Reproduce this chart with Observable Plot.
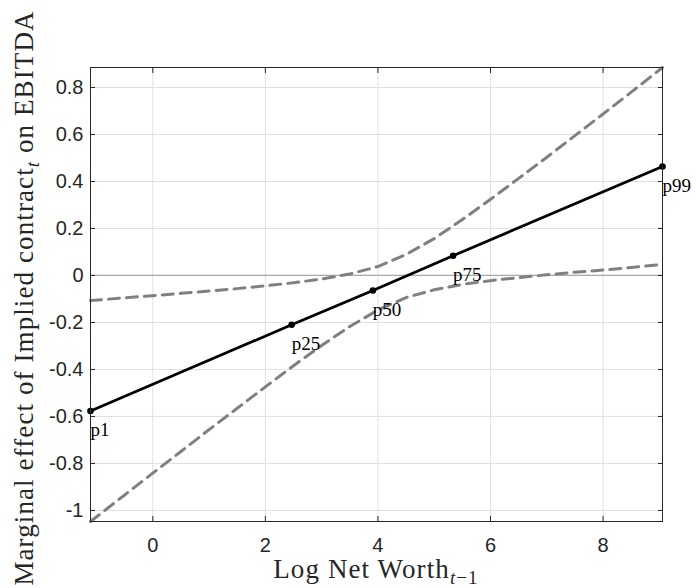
<!DOCTYPE html>
<html><head><meta charset="utf-8">
<script src="https://cdn.jsdelivr.net/npm/d3@7"></script>
<script src="https://cdn.jsdelivr.net/npm/@observablehq/plot@0.6"></script>
<style>body{margin:0;background:#fff} svg{display:block}</style>
</head><body><div id="chart"></div>
<script>
// Percentile points on the marginal-effect line
const pctLabels = ["p1", "p25", "p50", "p75", "p99"];
const pctX = [-1.107, 2.467, 3.91, 5.335, 9.056];
const pctY = [-0.577, -0.21, -0.064, 0.084, 0.464];

// Confidence band (dashed)
const ciX     = [-1.107, -0.5, 0, 0.5, 1, 1.5, 2, 2.5, 3, 3.5, 4, 4.5, 5, 5.5, 6, 6.5, 7, 7.5, 8, 8.5, 9.056];
const ciUpper = [-0.107, -0.095, -0.086, -0.076, -0.066, -0.056, -0.044, -0.031, -0.015, 0.006, 0.038, 0.089, 0.157, 0.238, 0.324, 0.413, 0.503, 0.595, 0.687, 0.780, 0.885];
const ciLower = [-1.047, -0.934, -0.841, -0.749, -0.656, -0.565, -0.474, -0.384, -0.298, -0.217, -0.147, -0.094, -0.061, -0.038, -0.022, -0.009, 0.003, 0.014, 0.023, 0.034, 0.047];

// Axis ticks
const xTicks = [0, 2, 4, 6, 8];
const yTicks = [-1, -0.8, -0.6, -0.4, -0.2, 0, 0.2, 0.4, 0.6, 0.8];

const yFmt = d => { const v = +(+d).toFixed(1); return v === 0 ? "0" : String(v); };

const serif = "'Liberation Serif', 'Times New Roman', serif";
const gridColor = "#e0e0e0";

const plot = Plot.plot({
  width: 696, height: 588,
  marginLeft: 90, marginRight: 34, marginTop: 67, marginBottom: 67,
  x: {domain: [-1.107, 9.056]},
  y: {domain: [-1.047, 0.885]},
  style: {fontFamily: "'Liberation Sans', Arial, sans-serif", fontSize: "20px", color: "#262626", background: "#fff"},
  marks: [
    Plot.gridX(xTicks, {stroke: gridColor, strokeOpacity: 1}),
    Plot.gridY(yTicks, {stroke: gridColor, strokeOpacity: 1}),
    Plot.ruleY([0], {stroke: "#a8a8a8", strokeWidth: 1.3}),
    Plot.line(ciX, {x: (d, i) => ciX[i], y: (d, i) => ciUpper[i], stroke: "#808080", strokeWidth: 3, strokeDasharray: "11,7", curve: "linear"}),
    Plot.line(ciX, {x: (d, i) => ciX[i], y: (d, i) => ciLower[i], stroke: "#808080", strokeWidth: 3, strokeDasharray: "11,7", curve: "linear"}),
    Plot.line(pctX, {x: (d, i) => pctX[i], y: (d, i) => pctY[i], stroke: "#000", strokeWidth: 2.8}),
    Plot.dot(pctX, {x: (d, i) => pctX[i], y: (d, i) => pctY[i], r: 3.3, fill: "#000", stroke: "none"}),
    Plot.text(pctLabels, {x: (d, i) => pctX[i], y: (d, i) => pctY[i], text: d => d, textAnchor: "start", dy: 19, fontFamily: serif, fontSize: 19, fill: "#000"}),
    Plot.frame({stroke: "#262626", strokeWidth: 1}),
    Plot.axisX(xTicks, {anchor: "bottom", tickSize: -5, tickPadding: 21, tickFormat: d => String(d), label: null, stroke: "#262626"}),
    Plot.axisX(xTicks, {anchor: "top", tickSize: -5, tickFormat: () => "", label: null, stroke: "#262626"}),
    Plot.axisY(yTicks, {anchor: "left", tickSize: -5, tickPadding: 12, tickFormat: yFmt, label: null, stroke: "#262626"}),
    Plot.axisY(yTicks, {anchor: "right", tickSize: -5, tickFormat: () => "", label: null, stroke: "#262626"})
  ]
});

const svg = d3.select(plot);
// x-axis title with subscript
const xt = svg.append("text")
  .attr("x", 376).attr("y", 578)
  .attr("text-anchor", "middle")
  .attr("letter-spacing", 1.1)
  .attr("font-family", serif).attr("font-size", 27).attr("fill", "#262626");
xt.append("tspan").text("Log Net Worth");
xt.append("tspan").attr("font-size", 19).attr("dy", 6).attr("font-style", "italic").text("t");
xt.append("tspan").attr("font-size", 19).text("\u22121");

// y-axis title with subscript
const yt = svg.append("text")
  .attr("transform", "translate(33,298) rotate(-90)")
  .attr("text-anchor", "middle")
  .attr("letter-spacing", 1.1)
  .attr("font-family", serif).attr("font-size", 27).attr("fill", "#262626");
yt.append("tspan").text("Marginal effect of Implied contract");
yt.append("tspan").attr("font-size", 19).attr("dy", 6).attr("font-style", "italic").text("t");
yt.append("tspan").attr("dy", -6).text(" on EBITDA");

document.getElementById("chart").append(plot);
</script>
</body></html>
